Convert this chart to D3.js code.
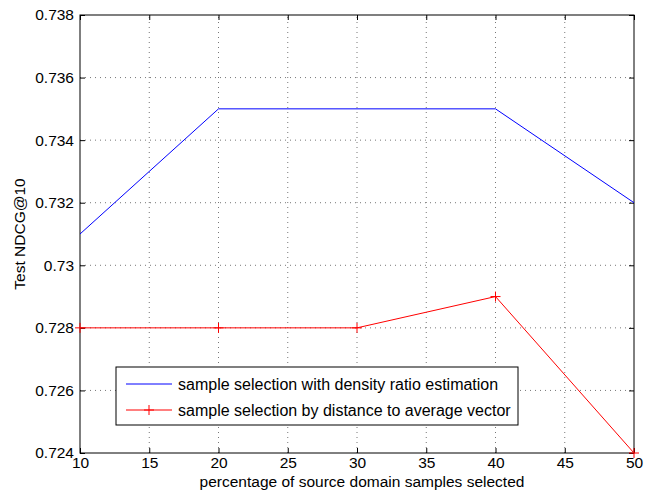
<!DOCTYPE html>
<html>
<head>
<meta charset="utf-8">
<script src="https://cdn.jsdelivr.net/npm/d3@7"></script>
<style>
  body { margin: 0; background: #fff; }
  text { font-family: "Liberation Sans", Arial, sans-serif; fill: #000; }
  .grid line { stroke: #777; stroke-dasharray: 1 4; stroke-width: 1; }
</style>
</head>
<body>
<svg id="chart" width="646" height="496"></svg>
<script>
const xValues = [10, 20, 30, 40, 50];
const densityRatio = [0.731, 0.735, 0.735, 0.735, 0.732];
const avgVector = [0.728, 0.728, 0.728, 0.729, 0.724];
const xTicks = [10, 15, 20, 25, 30, 35, 40, 45, 50];
const yTicks = [0.724, 0.726, 0.728, 0.73, 0.732, 0.734, 0.736, 0.738];
const seriesNames = [
  "sample selection with density ratio estimation",
  "sample selection by distance to average vector"
];

const margin = {left: 80, right: 12, top: 15, bottom: 43};
const width = 646, height = 496;
const svg = d3.select("#chart");

const x = d3.scaleLinear().domain([10, 50]).range([margin.left, width - margin.right]);
const y = d3.scaleLinear().domain([0.724, 0.738]).range([height - margin.bottom, margin.top]);

const fmt = d => String(+d.toFixed(3));

// grid
const grid = svg.append("g").attr("class", "grid");
grid.selectAll(".gx").data(xTicks.slice(1, -1)).enter().append("line")
  .attr("x1", d => x(d)).attr("x2", d => x(d))
  .attr("y1", y.range()[0]).attr("y2", y.range()[1]);
grid.selectAll(".gy").data(yTicks.slice(1, -1)).enter().append("line")
  .attr("y1", d => y(d)).attr("y2", d => y(d))
  .attr("x1", x.range()[0]).attr("x2", x.range()[1]);

// axes (ticks point inward, like matlab)
const axisStyle = g => {
  g.select(".domain").remove();
  g.selectAll("line").attr("stroke", "#000");
  g.selectAll("text").style("font-size", "15.5px").style("font-family", '"Liberation Sans", Arial, sans-serif');
};
svg.append("g").attr("transform", `translate(0,${y.range()[0]})`)
  .call(d3.axisBottom(x).tickValues(xTicks).tickSizeInner(-5).tickSizeOuter(0).tickPadding(4))
  .call(axisStyle);
svg.append("g").attr("transform", `translate(${x.range()[0]},0)`)
  .call(d3.axisLeft(y).tickValues(yTicks).tickFormat(fmt).tickSizeInner(-5).tickSizeOuter(0).tickPadding(6))
  .call(axisStyle);
svg.append("g").attr("transform", `translate(0,${y.range()[1]})`)
  .call(d3.axisTop(x).tickValues(xTicks).tickSizeInner(-5).tickSizeOuter(0).tickFormat(""))
  .call(axisStyle);
svg.append("g").attr("transform", `translate(${x.range()[1]},0)`)
  .call(d3.axisRight(y).tickValues(yTicks).tickSizeInner(-5).tickSizeOuter(0).tickFormat(""))
  .call(axisStyle);

svg.append("rect")
  .attr("x", x.range()[0]).attr("y", y.range()[1])
  .attr("width", x.range()[1] - x.range()[0]).attr("height", y.range()[0] - y.range()[1])
  .attr("fill", "none").attr("stroke", "#000").attr("stroke-width", 1);

// lines
const line = d3.line().x((d, i) => x(xValues[i])).y(d => y(d));
svg.append("path").datum(densityRatio).attr("d", line)
  .attr("fill", "none").attr("stroke", "#0000ff").attr("stroke-width", 1);
svg.append("path").datum(avgVector).attr("d", line)
  .attr("fill", "none").attr("stroke", "#ff0000").attr("stroke-width", 1);

const crossPath = (cx, cy, r) => `M${cx - r},${cy}H${cx + r}M${cx},${cy - r}V${cy + r}`;
svg.selectAll(".mark").data(avgVector).enter().append("path")
  .attr("d", (d, i) => crossPath(x(xValues[i]), y(d), 5))
  .attr("stroke", "#ff0000").attr("stroke-width", 1).attr("fill", "none");

// legend
const lg = svg.append("g");
lg.append("rect").attr("x", 116).attr("y", 367).attr("width", 402).attr("height", 58)
  .attr("fill", "#fff").attr("stroke", "#000").attr("stroke-width", 1);
const legendColors = ["#0000ff", "#ff0000"];
seriesNames.forEach((name, i) => {
  const ly = 384 + i * 26;
  lg.append("line").attr("x1", 126).attr("x2", 172).attr("y1", ly).attr("y2", ly)
    .attr("stroke", legendColors[i]).attr("stroke-width", 1);
  if (i === 1) {
    lg.append("path").attr("d", crossPath(149, ly, 5)).attr("stroke", legendColors[i]).attr("fill", "none");
  }
  lg.append("text").attr("x", 178).attr("y", ly + 5.5).style("font-size", "16px").text(name);
});

// axis labels
svg.append("text").attr("x", (x.range()[0] + x.range()[1]) / 2 + 5).attr("y", 487)
  .attr("text-anchor", "middle").style("font-size", "15.5px")
  .text("percentage of source domain samples selected");
svg.append("text").attr("transform", `translate(25,${(y.range()[0] + y.range()[1]) / 2}) rotate(-90)`)
  .attr("text-anchor", "middle").style("font-size", "15.5px")
  .text("Test NDCG@10");
</script>
</body>
</html>
